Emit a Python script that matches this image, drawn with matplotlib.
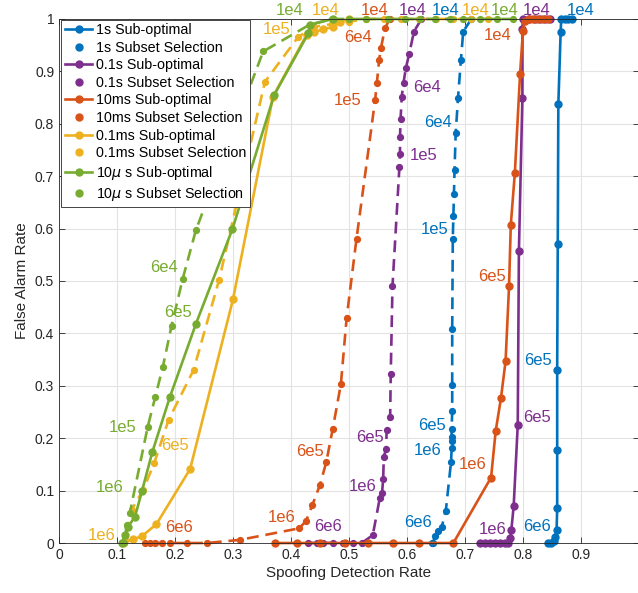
import matplotlib
matplotlib.use('Agg')
import matplotlib.pyplot as plt
from matplotlib.lines import Line2D

plt.rcParams['font.family'] = ['Liberation Sans', 'DejaVu Sans']
plt.rcParams['mathtext.fontset'] = 'dejavusans'

# detection rate (x) and false alarm rate (y), thresholds 1e4 -> 6e6
s1_sub_x = [0.884, 0.878, 0.872, 0.866, 0.865, 0.861, 0.860, 0.859, 0.859, 0.859, 0.858, 0.856, 0.853, 0.848, 0.843]
s1_sub_y = [1.0, 1.0, 1.0, 1.0, 0.976, 0.838, 0.570, 0.330, 0.177, 0.066, 0.025, 0.012, 0.004, 0.0, 0.0]
s1_sel_x = [0.711, 0.697, 0.693, 0.688, 0.684, 0.682, 0.681, 0.680, 0.679, 0.678, 0.678, 0.678, 0.677, 0.677,
            0.677, 0.677, 0.676, 0.667, 0.660, 0.654, 0.648, 0.645, 0.643]
s1_sel_y = [1.0, 0.976, 0.922, 0.849, 0.782, 0.712, 0.666, 0.624, 0.580, 0.408, 0.302, 0.252, 0.218, 0.203,
            0.195, 0.181, 0.155, 0.062, 0.031, 0.022, 0.013, 0.0, 0.0]

s01_sub_x = [0.847, 0.838, 0.829, 0.820, 0.810, 0.800, 0.799, 0.799, 0.793, 0.791, 0.784, 0.780, 0.778, 0.775,
             0.769, 0.760, 0.752, 0.744, 0.735, 0.726]
s01_sub_y = [1.0, 1.0, 1.0, 1.0, 1.0, 1.0, 0.980, 0.850, 0.557, 0.225, 0.071, 0.025, 0.009, 0.0,
             0.0, 0.0, 0.0, 0.0, 0.0, 0.0]
s01_sel_x = [0.625, 0.612, 0.604, 0.598, 0.594, 0.591, 0.589, 0.588, 0.588, 0.587, 0.575, 0.572, 0.571, 0.565,
             0.564, 0.560, 0.559, 0.557, 0.553, 0.541, 0.522, 0.507, 0.490, 0.473, 0.456, 0.444, 0.429]
s01_sel_y = [1.0, 0.976, 0.934, 0.906, 0.878, 0.852, 0.810, 0.775, 0.742, 0.718, 0.490, 0.322, 0.241, 0.216,
             0.179, 0.165, 0.123, 0.095, 0.085, 0.015, 0.0, 0.0, 0.0, 0.0, 0.0, 0.0, 0.0]

ms10_sub_x = [0.844, 0.835, 0.826, 0.817, 0.810, 0.803, 0.800, 0.795, 0.786, 0.779, 0.776, 0.770, 0.762, 0.753,
              0.745, 0.680, 0.620, 0.576, 0.533, 0.493, 0.450, 0.410, 0.372]
ms10_sub_y = [1.0, 1.0, 1.0, 1.0, 1.0, 0.997, 0.978, 0.895, 0.706, 0.607, 0.490, 0.347, 0.276, 0.214,
              0.125, 0.0, 0.0, 0.0, 0.0, 0.0, 0.0, 0.0, 0.0]
ms10_sel_x = [0.570, 0.562, 0.555, 0.552, 0.548, 0.545, 0.513, 0.496, 0.486, 0.472, 0.461, 0.450, 0.437, 0.426,
              0.414, 0.312, 0.255, 0.220, 0.191, 0.177, 0.166, 0.157, 0.148]
ms10_sel_y = [1.0, 0.982, 0.944, 0.922, 0.877, 0.845, 0.581, 0.430, 0.303, 0.218, 0.155, 0.111, 0.073, 0.042,
              0.028, 0.006, 0.0, 0.0, 0.0, 0.0, 0.0, 0.0, 0.0]

ms01_sub_x = [0.500, 0.485, 0.473, 0.455, 0.440, 0.427, 0.369, 0.300, 0.226, 0.168, 0.143, 0.128, 0.111]
ms01_sub_y = [1.0, 0.995, 0.985, 0.980, 0.975, 0.970, 0.852, 0.465, 0.141, 0.036, 0.013, 0.007, 0.0]
ms01_sel_x = [0.740, 0.710, 0.680, 0.650, 0.620, 0.590, 0.560, 0.530, 0.500, 0.470, 0.440, 0.412, 0.355, 0.276,
              0.232, 0.189, 0.164, 0.145, 0.125, 0.114]
ms01_sel_y = [1.0, 1.0, 1.0, 1.0, 1.0, 1.0, 1.0, 1.0, 0.995, 0.990, 0.985, 0.965, 0.880, 0.502,
              0.330, 0.235, 0.152, 0.101, 0.063, 0.006]

us10_sub_x = [0.472, 0.433, 0.430, 0.371, 0.299, 0.236, 0.191, 0.161, 0.143, 0.131, 0.119, 0.114, 0.108]
us10_sub_y = [1.0, 0.989, 0.973, 0.855, 0.599, 0.418, 0.278, 0.174, 0.099, 0.050, 0.031, 0.015, 0.0]
us10_sel_x = [0.783, 0.755, 0.726, 0.697, 0.674, 0.648, 0.622, 0.597, 0.567, 0.530, 0.500, 0.470, 0.432, 0.352,
              0.236, 0.213, 0.194, 0.179, 0.166, 0.153, 0.122, 0.117, 0.112]
us10_sel_y = [1.0, 1.0, 1.0, 1.0, 1.0, 1.0, 1.0, 1.0, 1.0, 1.0, 1.0, 1.0, 0.989, 0.938,
              0.597, 0.503, 0.414, 0.336, 0.279, 0.222, 0.057, 0.034, 0.0]

blue, purple, orange = '#0072BD', '#7E2F8E', '#D95319'
yellow, green = '#EDB120', '#77AC30'

series = [
    (s1_sub_x, s1_sub_y, blue, '-', '1s Sub-optimal'),
    (s1_sel_x, s1_sel_y, blue, '--', '1s Subset Selection'),
    (s01_sub_x, s01_sub_y, purple, '-', '0.1s Sub-optimal'),
    (s01_sel_x, s01_sel_y, purple, '--', '0.1s Subset Selection'),
    (ms10_sub_x, ms10_sub_y, orange, '-', '10ms Sub-optimal'),
    (ms10_sel_x, ms10_sel_y, orange, '--', '10ms Subset Selection'),
    (ms01_sub_x, ms01_sub_y, yellow, '-', '0.1ms Sub-optimal'),
    (ms01_sel_x, ms01_sel_y, yellow, '--', '0.1ms Subset Selection'),
    (us10_sub_x, us10_sub_y, green, '-', r'10$\mu$ s Sub-optimal'),
    (us10_sel_x, us10_sel_y, green, '--', r'10$\mu$ s Subset Selection'),
]

# threshold annotations (text, x, y, colour)
notes = [
    ('1e4', 0.398, 1.017, green), ('6e4', 0.181, 0.525, green), ('6e5', 0.205, 0.439, green),
    ('1e5', 0.110, 0.221, green), ('1e6', 0.088, 0.105, green), ('1e4', 0.768, 1.017, green),
    ('1e4', 0.459, 1.017, yellow), ('1e5', 0.376, 0.979, yellow), ('6e5', 0.200, 0.187, yellow),
    ('1e6', 0.074, 0.015, yellow), ('1e4', 0.719, 1.017, yellow),
    ('1e4', 0.545, 1.017, orange), ('6e4', 0.516, 0.964, orange), ('1e5', 0.498, 0.845, orange),
    ('6e5', 0.433, 0.174, orange), ('1e6', 0.384, 0.048, orange), ('6e6', 0.207, 0.029, orange),
    ('1e4', 0.757, 0.968, orange), ('6e5', 0.747, 0.508, orange), ('1e6', 0.714, 0.149, orange),
    ('1e4', 0.609, 1.017, purple), ('6e4', 0.634, 0.870, purple), ('1e5', 0.628, 0.740, purple),
    ('6e5', 0.536, 0.202, purple), ('1e6', 0.524, 0.107, purple), ('6e6', 0.464, 0.031, purple),
    ('1e4', 0.823, 1.017, purple), ('6e5', 0.824, 0.240, purple), ('1e6', 0.748, 0.025, purple),
    ('1e4', 0.666, 1.017, blue), ('6e4', 0.653, 0.802, blue), ('1e5', 0.648, 0.599, blue),
    ('6e5', 0.643, 0.225, blue), ('1e6', 0.636, 0.177, blue), ('6e6', 0.619, 0.040, blue),
    ('1e4', 0.900, 1.017, blue), ('6e5', 0.826, 0.349, blue), ('6e6', 0.824, 0.031, blue),
]

fig = plt.figure(figsize=(6.38, 5.93), dpi=100)
ax = fig.add_axes([0.0925, 0.0843, 0.909, 0.8837])

handles = []
for x, y, c, ls, name in series:
    if ls == '--':
        ax.plot(x, y, color=c, lw=1.9, ls='--', dashes=(4.5, 2.6), marker='o', ms=4.2, clip_on=False)
        handles.append(Line2D([], [], color=c, ls='none', marker='o', ms=5, label=name))
    else:
        ax.plot(x, y, color=c, lw=1.9, marker='o', ms=5, clip_on=False)
        handles.append(Line2D([], [], color=c, lw=1.9, marker='o', ms=5, label=name))

for t, x, y, c in notes:
    ax.text(x, y, t, color=c, fontsize=12, ha='center', va='center', clip_on=False)

ax.set_xlim(0, 1)
ax.set_ylim(0, 1)
ticks = [i / 10 for i in range(11)]
ax.set_xticks(ticks)
ax.set_yticks(ticks)
ax.set_xticklabels(['%g' % t for t in ticks[:-1]] + [''])
ax.set_yticklabels(['%g' % t for t in ticks])
ax.grid(True, color='#e3e3e3', lw=0.8)
ax.set_axisbelow(True)
ax.tick_params(direction='in', top=True, right=True, length=4, labelsize=10,
               colors='#262626', width=0.6)
for sp in ax.spines.values():
    sp.set_color('#262626')
    sp.set_linewidth(0.6)

ax.set_xlabel('Spoofing Detection Rate', fontsize=11, color='#262626', labelpad=3)
ax.set_ylabel('False Alarm Rate', fontsize=11, color='#262626', labelpad=4)

leg = ax.legend(handles=handles, loc='upper left', bbox_to_anchor=(0.004, 0.999), fontsize=10.3,
                fancybox=False, framealpha=1, edgecolor='#262626', handlelength=1.9,
                handletextpad=0.25, labelspacing=0.25, borderpad=0.25, borderaxespad=0)
leg.get_frame().set_linewidth(0.6)

fig.savefig('out.png', dpi=100)
